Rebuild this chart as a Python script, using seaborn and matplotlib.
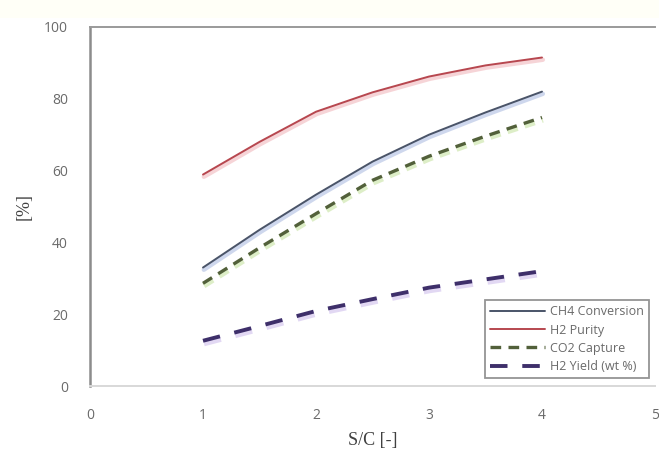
import matplotlib
matplotlib.use("Agg")
import matplotlib.pyplot as plt
import matplotlib.patheffects as pe
import seaborn as sns
import pandas as pd

# Steam-to-carbon ratio and performance indicators
sc_ratio = [1.0, 1.5, 2.0, 2.5, 3.0, 3.5, 4.0]
ch4_conversion = [33.0, 43.5, 53.3, 62.5, 70.0, 76.2, 82.0]
h2_purity = [58.9, 68.0, 76.4, 81.8, 86.2, 89.3, 91.5]
co2_capture = [28.6, 38.5, 48.0, 57.3, 64.0, 69.6, 74.8]
h2_yield = [12.6, 16.7, 20.9, 24.2, 27.4, 29.7, 32.0]

series_names = ["CH4 Conversion", "H2 Purity", "CO2 Capture", "H2 Yield (wt %)"]
x_ticks = [0, 1, 2, 3, 4, 5]
y_ticks = [0, 20, 40, 60, 80, 100]

df = pd.DataFrame({
    "S/C": sc_ratio * 4,
    "value": ch4_conversion + h2_purity + co2_capture + h2_yield,
    "series": sum([[n] * len(sc_ratio) for n in series_names], []),
})

sns.set_style("white")
plt.rcParams["font.family"] = ["Open Sans", "DejaVu Sans"]

fig = plt.figure(figsize=(6.59, 4.61), dpi=100)
fig.patch.set_facecolor("white")
# faint cream band along the top edge
fig.patches.append(plt.Rectangle((0, 0.96), 1, 0.04, transform=fig.transFigure,
                                 facecolor="#FFFFF7", edgecolor="none", zorder=0))
ax = fig.add_axes([90 / 659, 1 - 386 / 461, 565 / 659, 359 / 461])

styles = {
    "CH4 Conversion": dict(color="#4A5468", lw=1.4, dashes=None, glow="#C6D1EA", glw=3.2),
    "H2 Purity": dict(color="#B7474F", lw=1.4, dashes=None, glow="#F5CDD0", glw=3.2),
    "CO2 Capture": dict(color="#52603A", lw=2.4, dashes=(3.2, 2.2), glow="#D8EBBE", glw=4.2),
    "H2 Yield (wt %)": dict(color="#3E2F6A", lw=2.8, dashes=(4.5, 3.8), glow="#DDD2F2", glw=4.8),
}

for name in series_names:
    st = styles[name]
    sub = df[df["series"] == name]
    sns.lineplot(data=sub, x="S/C", y="value", ax=ax, color=st["color"],
                 linewidth=st["lw"], label=name, estimator=None, sort=True)
    line = ax.lines[-1]
    if st["dashes"] is not None:
        line.set_dashes(st["dashes"])
    line.set_solid_joinstyle("round")
    line.set_path_effects([
        pe.SimpleLineShadow(offset=(0.6, -1.6), shadow_color=st["glow"], alpha=0.85,
                            rho=1.0, linewidth=st["glw"]),
        pe.Normal(),
    ])

ax.set_xlim(0, 5)
ax.set_ylim(0, 100)
ax.set_xticks(x_ticks)
ax.set_yticks(y_ticks)
ax.tick_params(axis="both", length=0, labelsize=10, labelcolor="#6A6A6A")
ax.tick_params(axis="y", pad=16)
ax.tick_params(axis="x", pad=16)
ax.set_xlabel("S/C [-]", fontfamily="Liberation Serif", fontsize=13, color="#404040", labelpad=6)
ax.set_ylabel("[%]", fontfamily="Liberation Serif", fontsize=13, color="#404040", labelpad=8)

ax.spines["left"].set_color("#8C8C8C")
ax.spines["left"].set_linewidth(1.8)
ax.spines["top"].set_color("#9A9A9A")
ax.spines["top"].set_linewidth(1.4)
ax.spines["bottom"].set_color("#D8D8D8")
ax.spines["bottom"].set_linewidth(1.4)
ax.spines["right"].set_visible(False)

leg = ax.legend(loc="lower right", bbox_to_anchor=(0.99, 0.022), fontsize=9,
                frameon=True, fancybox=False, handlelength=4.4, handletextpad=0.4,
                borderpad=0.4, labelspacing=0.42, borderaxespad=0)
leg.get_frame().set_edgecolor("#7A7A7A")
leg.get_frame().set_linewidth(1.3)
for t in leg.get_texts():
    t.set_color("#6A6A6A")
for h in leg.get_lines():
    h.set_path_effects([])

fig.savefig("out.png", dpi=100)
